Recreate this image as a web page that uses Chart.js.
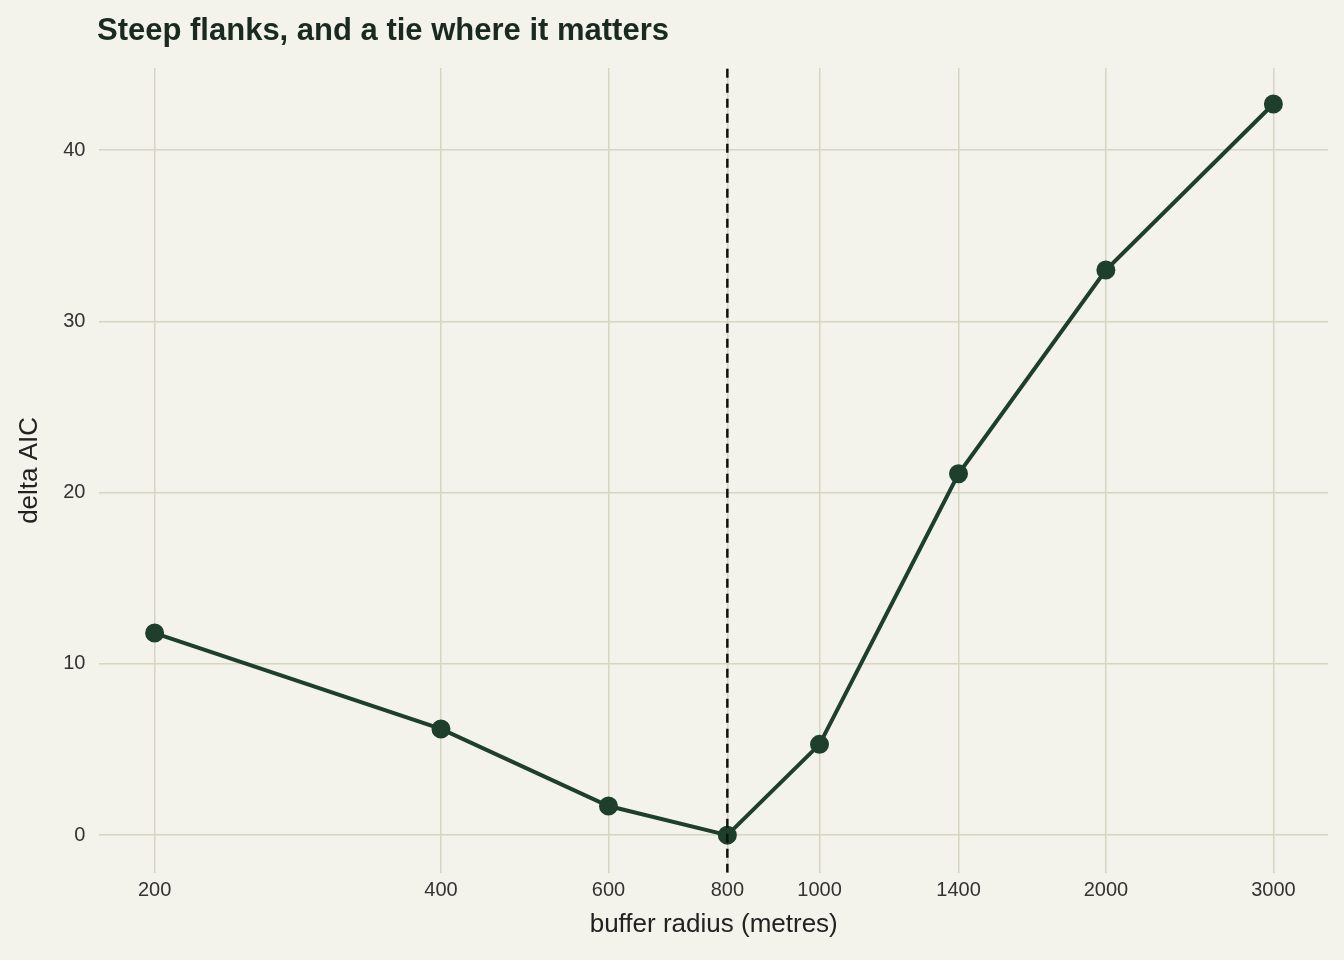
<!DOCTYPE html>
<html><head><meta charset="utf-8">
<script src="https://cdn.jsdelivr.net/npm/chart.js@4"></script>
<style>html,body{margin:0;background:#f3f2eb;}#w{position:relative;width:1344px;height:960px;}
#t{position:absolute;left:97px;top:12px;font:bold 31px 'Liberation Sans',Arial,sans-serif;color:#1a2a20;}</style>
</head><body><div id="w"><div id="t">Steep flanks, and a tie where it matters</div><canvas id="c"></canvas></div>
<script>
const radii = [200, 400, 600, 800, 1000, 1400, 2000, 3000];
const deltaAIC = [11.8, 6.2, 1.7, 0, 5.3, 21.1, 33.0, 42.7];
const xTicks = [200, 400, 600, 800, 1000, 1400, 2000, 3000];
const yTicks = [0, 10, 20, 30, 40];
const bestRadius = 800;
const font = {family: 'Liberation Sans, Arial, sans-serif', size: 20};
new Chart(document.getElementById('c'), {
  type: 'scatter',
  data: {datasets: [
    {data: [{x: bestRadius, y: -2.2}, {x: bestRadius, y: 44.8}], showLine: true, borderColor: '#111', borderWidth: 2.5, borderDash: [9, 6], pointRadius: 0},
    {data: radii.map((r, i) => ({x: r, y: deltaAIC[i]})), showLine: true, borderColor: '#1e3f2c', backgroundColor: '#1e3f2c', borderWidth: 4, pointRadius: 7.5, pointHoverRadius: 7.5}
  ]},
  options: {
    responsive: true, maintainAspectRatio: false, animation: false,
    layout: {padding: {left: 10, right: 16, top: 68, bottom: 16}},
    plugins: {legend: {display: false}, tooltip: {enabled: false}},
    scales: {
      x: {type: 'logarithmic', min: 175, max: 3424,
        afterBuildTicks: s => { s.ticks = xTicks.map(v => ({value: v})); },
        ticks: {color: '#333', font, autoSkip: false, maxRotation: 0, callback: v => String(v), padding: 6},
        grid: {color: '#d6d6c2', lineWidth: 1.5, drawTicks: false}, border: {display: false},
        title: {display: true, text: 'buffer radius (metres)', color: '#222', font: {...font, size: 26}, padding: {top: 0}}},
      y: {min: -2.2, max: 44.8,
        afterBuildTicks: s => { s.ticks = yTicks.map(v => ({value: v})); },
        ticks: {color: '#333', font, padding: 14},
        grid: {color: '#d6d6c2', lineWidth: 1.5, drawTicks: false}, border: {display: false},
        title: {display: true, text: 'delta AIC', color: '#222', font: {...font, size: 26}}}
    }
  }
});
</script></body></html>
